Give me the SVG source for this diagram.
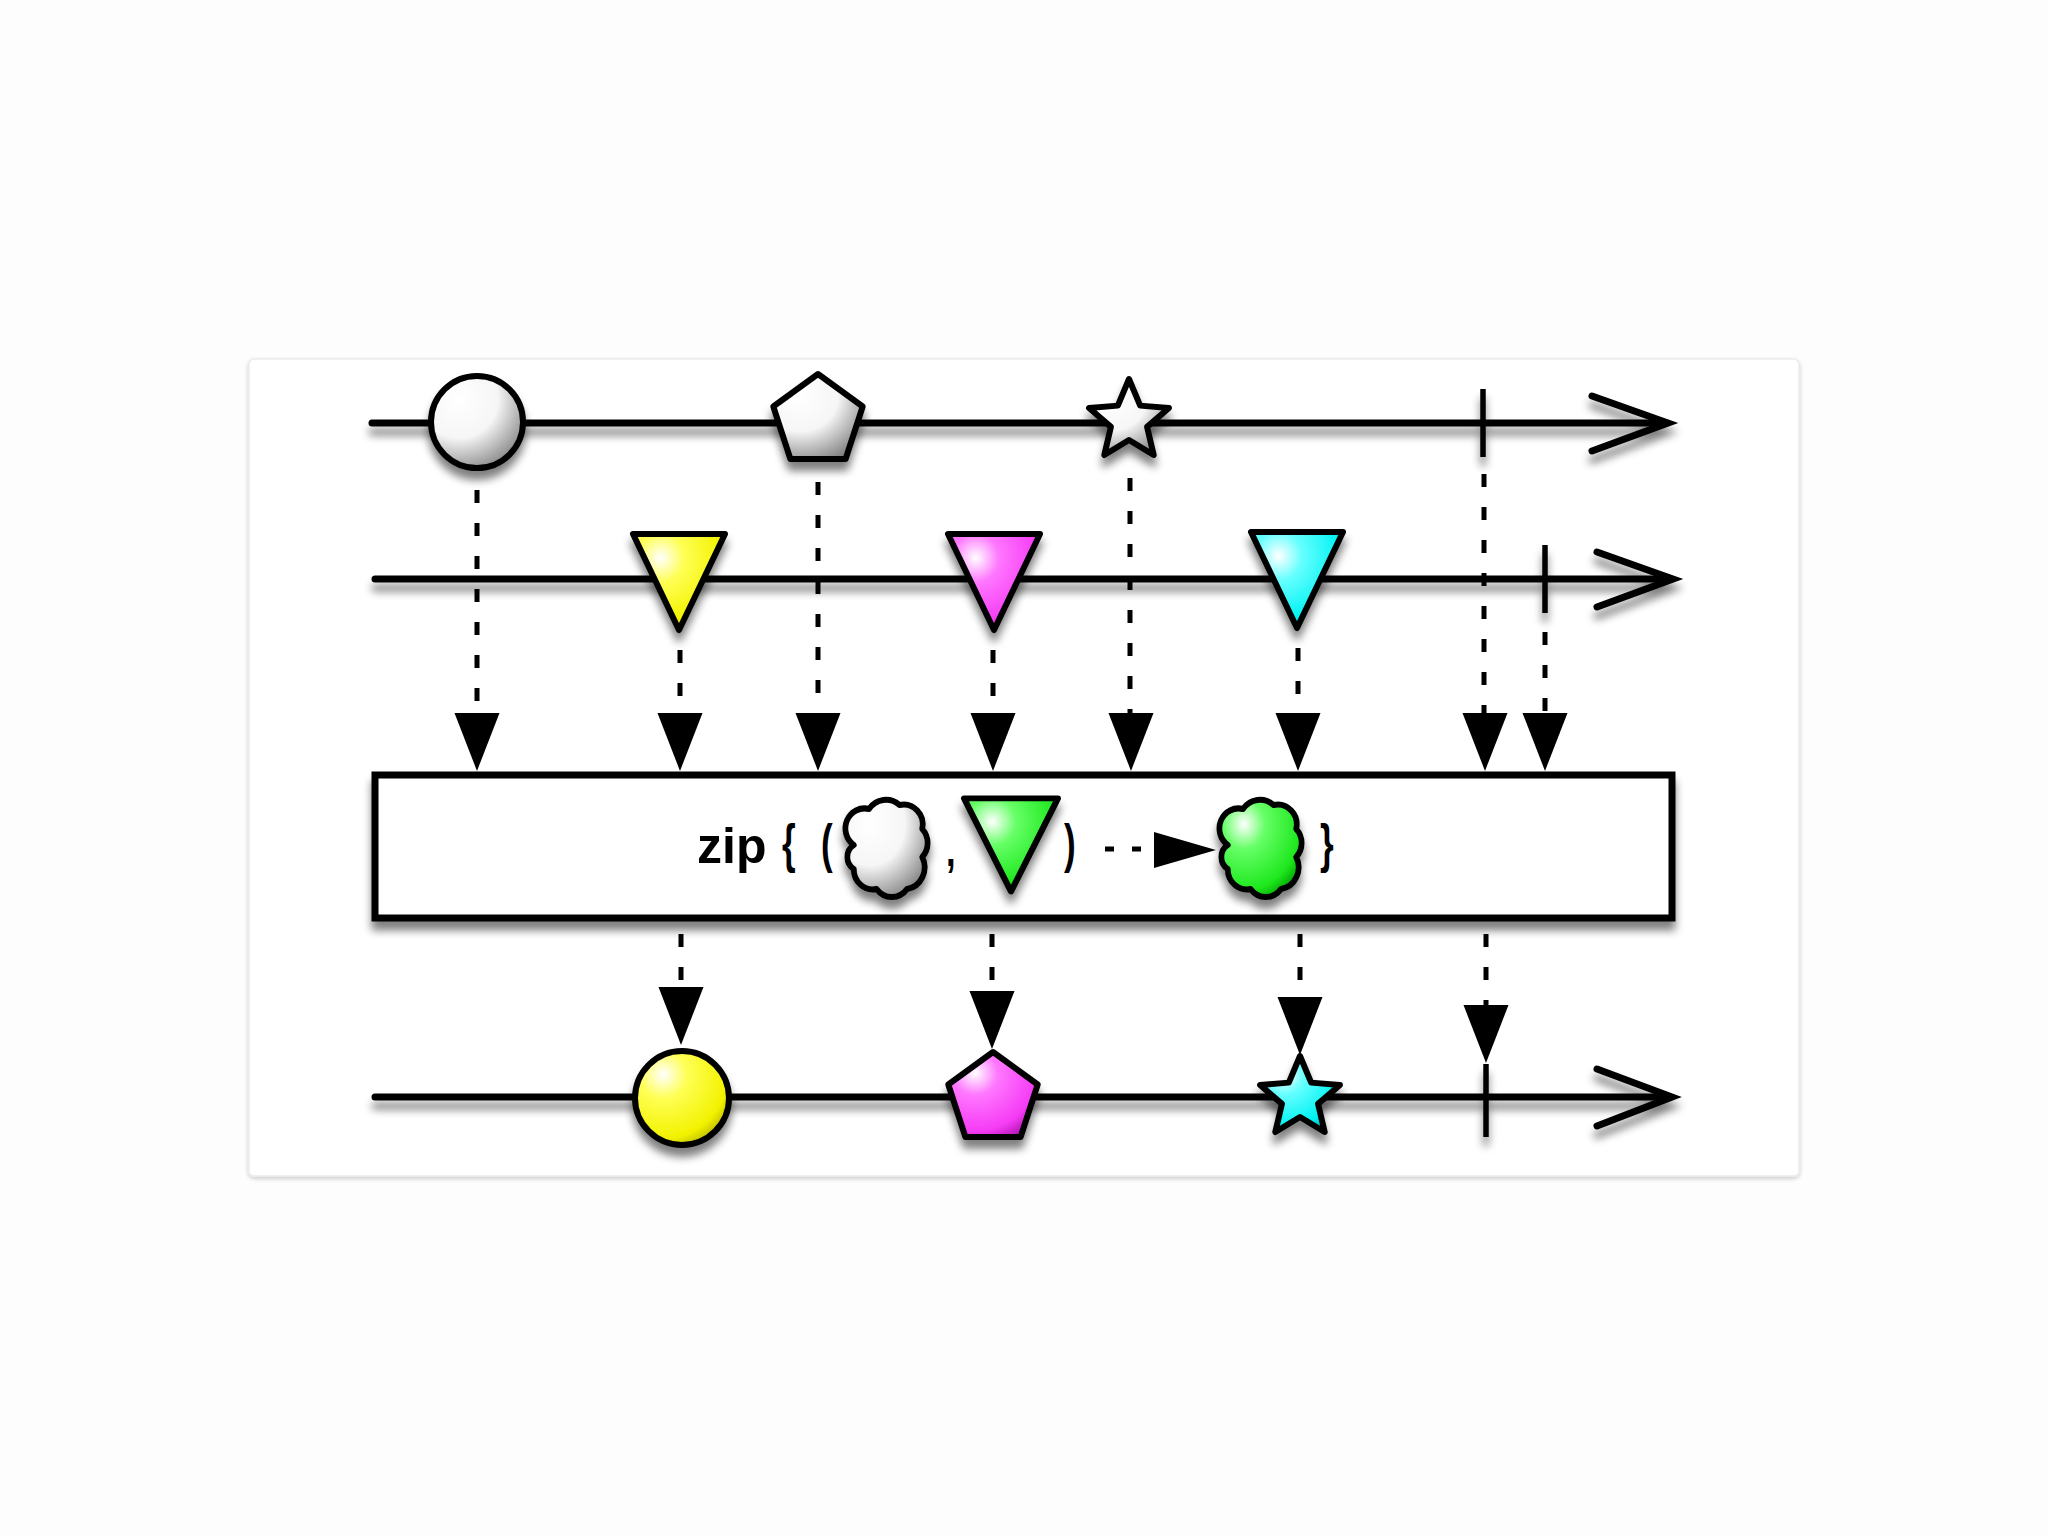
<svg xmlns="http://www.w3.org/2000/svg" width="2048" height="1536" viewBox="0 0 2048 1536">
  <defs>
    <filter id="sh" x="-20%" y="-20%" width="140%" height="160%">
      <feGaussianBlur in="SourceAlpha" stdDeviation="4"/>
      <feOffset dx="0" dy="9" result="b"/>
      <feComponentTransfer><feFuncA type="linear" slope="0.5"/></feComponentTransfer>
      <feMerge><feMergeNode/><feMergeNode in="SourceGraphic"/></feMerge>
    </filter>
    <filter id="lsh" x="-5%" y="-200%" width="110%" height="500%">
      <feGaussianBlur in="SourceAlpha" stdDeviation="4"/>
      <feOffset dx="0" dy="9" result="b"/>
      <feComponentTransfer><feFuncA type="linear" slope="0.5"/></feComponentTransfer>
      <feMerge><feMergeNode/><feMergeNode in="SourceGraphic"/></feMerge>
    </filter>
    <filter id="cardsh" x="-5%" y="-5%" width="110%" height="110%">
      <feGaussianBlur in="SourceAlpha" stdDeviation="2"/>
      <feOffset dx="0" dy="2"/>
      <feComponentTransfer><feFuncA type="linear" slope="0.2"/></feComponentTransfer>
      <feMerge><feMergeNode/><feMergeNode in="SourceGraphic"/></feMerge>
    </filter>
    <radialGradient id="gWhite" cx="0.3" cy="0.25" r="0.85">
      <stop offset="0" stop-color="#ffffff"/>
      <stop offset="0.5" stop-color="#f6f6f6"/>
      <stop offset="1" stop-color="#808080"/>
    </radialGradient>
    <radialGradient id="gYellow" cx="0.3" cy="0.25" r="0.85">
      <stop offset="0" stop-color="#ffffff"/>
      <stop offset="0.3" stop-color="#ffff55"/>
      <stop offset="0.8" stop-color="#f2f200"/>
      <stop offset="1" stop-color="#b0b000"/>
    </radialGradient>
    <radialGradient id="gMagenta" cx="0.3" cy="0.25" r="0.85">
      <stop offset="0" stop-color="#ffffff"/>
      <stop offset="0.3" stop-color="#ff77ff"/>
      <stop offset="0.8" stop-color="#f53cf5"/>
      <stop offset="1" stop-color="#b818b8"/>
    </radialGradient>
    <radialGradient id="gCyan" cx="0.3" cy="0.25" r="0.85">
      <stop offset="0" stop-color="#ffffff"/>
      <stop offset="0.3" stop-color="#66ffff"/>
      <stop offset="0.8" stop-color="#00f2f2"/>
      <stop offset="1" stop-color="#00b0b0"/>
    </radialGradient>
    <radialGradient id="gGreen" cx="0.3" cy="0.25" r="0.85">
      <stop offset="0" stop-color="#ffffff"/>
      <stop offset="0.3" stop-color="#66ff66"/>
      <stop offset="0.8" stop-color="#1ee81e"/>
      <stop offset="1" stop-color="#00a000"/>
    </radialGradient>
    <path id="star" d="M0,-42 L11.17,-15.37 L39.94,-12.98 L18.07,5.87 L24.69,33.98 L0,19 L-24.69,33.98 L-18.07,5.87 L-39.94,-12.98 L-11.17,-15.37 Z"/>
    <path id="pent" d="M0,-47 L44.7,-14.5 L27.6,38 L-27.6,38 L-44.7,-14.5 Z"/>
    <path id="tri" d="M-46,-46 L46,-46 L0,50 Z"/>
    <path id="cloud" d="M-36,-2 A20,20 0 0 1 -20,-38 A22,22 0 0 1 12,-42 A20,20 0 0 1 36,-18 A20,20 0 0 1 36,10 A22,22 0 0 1 20,42 A20,20 0 0 1 -12,42 A20,20 0 0 1 -36,22 A14,14 0 0 1 -36,-2 Z"/>
    <path id="ah" d="M-22.5,-58 L22.5,-58 L0,0 Z"/>
  </defs>
  <style>
    .line { stroke: #000; stroke-width: 7; fill: none; stroke-linecap: round; }
    .chev { stroke: #000; stroke-width: 7; fill: none; stroke-linecap: round; stroke-linejoin: miter; }
    .term { stroke: #000; stroke-width: 5.5; fill: none; }
    .mk { stroke: #000; stroke-width: 6; stroke-linejoin: round; }
    .dash { stroke: #000; stroke-width: 5; fill: none; stroke-dasharray: 13 20; }
    .head { fill: #000; }
    .txt { font-family: "Liberation Sans", Arial, sans-serif; fill: #000; }
  </style>

  <rect x="0" y="0" width="2048" height="1536" fill="#fdfdfd"/>
  <rect x="249" y="359" width="1550" height="817" rx="5" fill="#ffffff" stroke="#ececec" stroke-width="1.5" filter="url(#cardsh)"/>

  <!-- timelines -->
  <g id="timeline-1" filter="url(#lsh)">
    <line class="line" x1="372" y1="423" x2="1666" y2="423"/>
    <polyline class="chev" points="1592,396 1668,423 1592,451"/>
    <line class="term" x1="1483" y1="389" x2="1483" y2="457"/>
  </g>
  <g id="timeline-2" filter="url(#lsh)">
    <line class="line" x1="375" y1="579" x2="1671" y2="579"/>
    <polyline class="chev" points="1597,552 1673,579 1597,607"/>
    <line class="term" x1="1545" y1="545" x2="1545" y2="613"/>
  </g>
  <g id="timeline-3" filter="url(#lsh)">
    <line class="line" x1="375" y1="1097" x2="1670" y2="1097"/>
    <polyline class="chev" points="1597,1069 1672,1097 1597,1126"/>
    <line class="term" x1="1486" y1="1064" x2="1486" y2="1137"/>
  </g>

  <!-- connectors -->
  <g id="connectors">
    <line class="dash" x1="477" y1="490" x2="477" y2="716"/>
    <line class="dash" x1="818" y1="482" x2="818" y2="716"/>
    <line class="dash" x1="1130" y1="478" x2="1130" y2="716"/>
    <line class="dash" x1="1484" y1="474" x2="1484" y2="716"/>
    <line class="dash" x1="680" y1="650" x2="680" y2="716"/>
    <line class="dash" x1="993" y1="650" x2="993" y2="716"/>
    <line class="dash" x1="1298" y1="648" x2="1298" y2="716"/>
    <line class="dash" x1="1545" y1="632" x2="1545" y2="716"/>
    <use href="#ah" class="head" transform="translate(477,771)"/>
    <use href="#ah" class="head" transform="translate(680,771)"/>
    <use href="#ah" class="head" transform="translate(818,771)"/>
    <use href="#ah" class="head" transform="translate(993,771)"/>
    <use href="#ah" class="head" transform="translate(1131,771)"/>
    <use href="#ah" class="head" transform="translate(1298,771)"/>
    <use href="#ah" class="head" transform="translate(1485,771)"/>
    <use href="#ah" class="head" transform="translate(1545,771)"/>

    <line class="dash" x1="681" y1="934" x2="681" y2="990"/>
    <line class="dash" x1="992" y1="934" x2="992" y2="992"/>
    <line class="dash" x1="1300" y1="934" x2="1300" y2="996"/>
    <line class="dash" x1="1486" y1="934" x2="1486" y2="1005"/>
    <use href="#ah" class="head" transform="translate(681,1045)"/>
    <use href="#ah" class="head" transform="translate(992,1049)"/>
    <use href="#ah" class="head" transform="translate(1300,1055)"/>
    <use href="#ah" class="head" transform="translate(1486,1063)"/>
  </g>

  <!-- source 1 marbles -->
  <g id="src1-circle" filter="url(#sh)">
    <circle cx="477" cy="422" r="46" fill="url(#gWhite)" class="mk"/>
  </g>
  <g id="src1-pentagon" filter="url(#sh)">
    <use href="#pent" transform="translate(818,421)" fill="url(#gWhite)" class="mk"/>
  </g>
  <g id="src1-star" filter="url(#sh)">
    <use href="#star" transform="translate(1129,421)" fill="url(#gWhite)" class="mk" stroke-linejoin="miter"/>
  </g>

  <!-- source 2 marbles -->
  <g id="src2-yellow" filter="url(#sh)">
    <use href="#tri" transform="translate(679,580)" fill="url(#gYellow)" class="mk"/>
  </g>
  <g id="src2-magenta" filter="url(#sh)">
    <use href="#tri" transform="translate(994,580)" fill="url(#gMagenta)" class="mk"/>
  </g>
  <g id="src2-cyan" filter="url(#sh)">
    <use href="#tri" transform="translate(1297,578)" fill="url(#gCyan)" class="mk"/>
  </g>

  <!-- operator box -->
  <g id="zip-box">
    <rect x="375" y="775" width="1297" height="143" fill="#ffffff" stroke="#000" stroke-width="7" filter="url(#sh)"/>
    <text class="txt" x="697" y="863" font-size="50" font-weight="bold">zip</text>
    <text class="txt" font-size="54" font-weight="bold" transform="translate(782,862) scale(0.65,1)">{</text>
    <text class="txt" font-size="54" font-weight="bold" transform="translate(821,862) scale(0.65,1)">(</text>
    <g filter="url(#sh)">
      <use href="#cloud" transform="translate(888,847) scale(0.95,1)" fill="url(#gWhite)" class="mk"/>
    </g>
    <text class="txt" font-size="46" font-weight="bold" transform="translate(946,866) scale(0.75,1)">,</text>
    <g filter="url(#sh)">
      <use href="#tri" transform="translate(1011,843) scale(1.02,0.97)" fill="url(#gGreen)" class="mk"/>
    </g>
    <text class="txt" font-size="54" font-weight="bold" transform="translate(1064,862) scale(0.65,1)">)</text>
    <line x1="1105" y1="849" x2="1150" y2="849" stroke="#000" stroke-width="5" stroke-dasharray="9 18"/>
    <polygon points="1154,832 1216,850 1154,868" fill="#000"/>
    <g filter="url(#sh)">
      <use href="#cloud" transform="translate(1262,847) scale(0.95,1)" fill="url(#gGreen)" class="mk"/>
    </g>
    <text class="txt" font-size="54" font-weight="bold" transform="translate(1320,862) scale(0.65,1)">}</text>
  </g>

  <!-- result marbles -->
  <g id="out-circle" filter="url(#sh)">
    <circle cx="682" cy="1098" r="47" fill="url(#gYellow)" class="mk"/>
  </g>
  <g id="out-pentagon" filter="url(#sh)">
    <use href="#pent" transform="translate(993,1099)" fill="url(#gMagenta)" class="mk"/>
  </g>
  <g id="out-star" filter="url(#sh)">
    <use href="#star" transform="translate(1300,1098)" fill="url(#gCyan)" class="mk" stroke-linejoin="miter"/>
  </g>
</svg>
